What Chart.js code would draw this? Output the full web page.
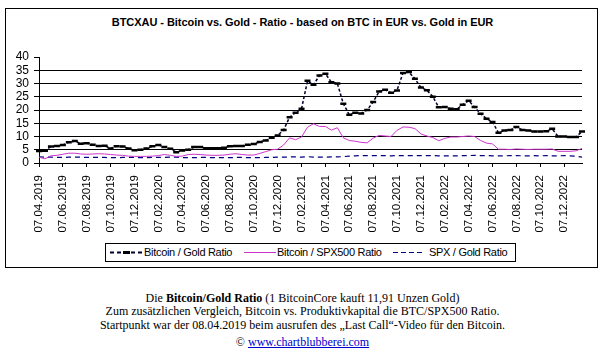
<!DOCTYPE html>
<html>
<head>
<meta charset="utf-8">
<script src="https://cdn.jsdelivr.net/npm/chart.js@4.4.1/dist/chart.umd.min.js"></script>
<style>
  html, body { margin:0; padding:0; background:#fff; }
  body { width:605px; height:356px; position:relative; overflow:hidden; font-family:"Liberation Sans", Arial, sans-serif; }
  #frame { position:absolute; left:5px; top:8px; width:593px; height:260px; border:1px solid #000; box-sizing:border-box; }
  #title { position:absolute; left:0; top:16px; width:605px; text-align:center; font-weight:bold; font-size:11px; letter-spacing:-0.05px; color:#000; white-space:nowrap; }
  #chartWrap { position:absolute; left:0; top:0; width:605px; height:240px; }
  #legend { position:absolute; left:105px; top:243px; width:411px; height:19px; border:1px solid #000; box-sizing:border-box; font-size:11px; letter-spacing:-0.3px; color:#000; }
  #legend .it { position:absolute; top:0; height:17px; line-height:17px; white-space:nowrap; }
  #legend svg { position:absolute; top:5px; }
  #foot { position:absolute; left:0; top:291px; width:605px; text-align:center; font-family:"Liberation Serif", "Times New Roman", serif; font-size:12px; color:#000; }
  #foot div { position:absolute; left:0; width:605px; white-space:nowrap; }
  #foot a { color:#0000cc; text-decoration:underline; }
</style>
</head>
<body>
<div id="frame"></div>
<div id="title">BTCXAU - Bitcoin vs. Gold - Ratio - based on BTC in EUR vs. Gold in EUR</div>
<div id="chartWrap"><canvas id="c" width="605" height="240"></canvas></div>
<div id="legend">
  <svg style="left:4px" width="32" height="7"><line x1="0" y1="3.5" x2="32" y2="3.5" stroke="#000033" stroke-width="2" stroke-dasharray="4,3"/><rect x="13" y="2" width="7" height="3" fill="#000"/></svg>
  <span class="it" style="left:38px">Bitcoin / Gold Ratio</span>
  <svg style="left:138px" width="32" height="7"><line x1="0" y1="3.5" x2="32" y2="3.5" stroke="#cc33cc" stroke-width="1"/></svg>
  <span class="it" style="left:171px">Bitcoin / SPX500 Ratio</span>
  <svg style="left:287px" width="32" height="7"><line x1="0" y1="3.5" x2="32" y2="3.5" stroke="#000080" stroke-width="1.2" stroke-dasharray="5,3"/></svg>
  <span class="it" style="left:323px">SPX / Gold Ratio</span>
</div>
<div id="foot">
  <div style="top:0px">Die <b>Bitcoin/Gold Ratio</b> (1 BitcoinCore kauft 11,91 Unzen Gold)</div>
  <div style="top:13px">Zum zusätzlichen Vergleich, Bitcoin vs. Produktivkapital die BTC/SPX500 Ratio.</div>
  <div style="top:27px">Startpunkt war der 08.04.2019 beim ausrufen des „Last Call“-Video für den Bitcoin.</div>
  <div style="top:44px">© <a href="#">www.chartblubberei.com</a></div>
</div>
<script>
const categories = [
 "07.04.2019","22.04.2019","07.05.2019","22.05.2019","07.06.2019","22.06.2019","07.07.2019","22.07.2019","07.08.2019","22.08.2019","07.09.2019","22.09.2019","07.10.2019","22.10.2019","07.11.2019","22.11.2019","07.12.2019","22.12.2019",
 "07.01.2020","22.01.2020","07.02.2020","22.02.2020","07.03.2020","22.03.2020","07.04.2020","22.04.2020","07.05.2020","22.05.2020","07.06.2020","22.06.2020","07.07.2020","22.07.2020","07.08.2020","22.08.2020","07.09.2020","22.09.2020","07.10.2020","22.10.2020","07.11.2020","22.11.2020","07.12.2020","22.12.2020",
 "07.01.2021","22.01.2021","07.02.2021","22.02.2021","07.03.2021","22.03.2021","07.04.2021","22.04.2021","07.05.2021","22.05.2021","07.06.2021","22.06.2021","07.07.2021","22.07.2021","07.08.2021","22.08.2021","07.09.2021","22.09.2021","07.10.2021","22.10.2021","07.11.2021","22.11.2021","07.12.2021","22.12.2021",
 "07.01.2022","22.01.2022","07.02.2022","22.02.2022","07.03.2022","22.03.2022","07.04.2022","22.04.2022","07.05.2022","22.05.2022","07.06.2022","22.06.2022","07.07.2022","22.07.2022","07.08.2022","22.08.2022","07.09.2022","22.09.2022","07.10.2022","22.10.2022","07.11.2022","22.11.2022","07.12.2022","22.12.2022",
 "07.01.2023","22.01.2023"
];
const tickLabels = [
 "07.04.2019","07.06.2019","07.08.2019","07.10.2019","07.12.2019",
 "07.02.2020","07.04.2020","07.06.2020","07.08.2020","07.10.2020","07.12.2020",
 "07.02.2021","07.04.2021","07.06.2021","07.08.2021","07.10.2021","07.12.2021",
 "07.02.2022","07.04.2022","07.06.2022","07.08.2022","07.10.2022","07.12.2022"
];
const yTicks = [0,5,10,15,20,25,30,35,40];
const btcGold = [
 4.5,4.6,6.2,6.4,6.8,7.8,8.3,7.3,7.5,6.9,
 6.4,6.5,5.5,6.3,6.2,5.5,4.8,5.0,5.5,6.3,
 6.8,6.0,5.4,4.1,4.7,5.0,6.0,6.0,5.6,5.6,
 5.6,5.8,6.3,6.4,6.4,6.9,7.2,7.9,8.5,9.5,
 10.4,12.5,17.3,19.0,20.5,31.0,29.5,33.0,33.7,30.5,
 30.0,22.4,18.2,19.0,18.7,20.0,23.0,27.0,27.6,26.5,
 27.4,34.0,34.3,31.8,28.5,27.5,25.0,21.0,21.1,20.5,
 20.3,22.0,23.5,21.1,18.6,16.7,15.5,11.4,12.3,12.5,
 13.6,12.5,12.3,11.9,11.9,12.0,12.9,10.0,10.0,9.8,
 9.8,11.9
];
const btcSpx = [
 2.2,1.6,2.7,2.9,3.3,3.7,3.7,3.4,3.3,3.4,
 3.5,3.4,3.2,3.0,2.9,2.6,2.5,2.5,2.5,2.6,
 2.8,3.2,2.9,2.5,2.6,3.2,3.3,3.2,3.0,2.9,
 2.9,3.0,3.3,3.5,3.2,3.0,3.0,3.6,4.3,5.0,
 5.2,6.8,9.5,8.8,9.8,13.5,14.8,13.8,13.8,12.4,
 13.3,9.5,8.5,8.2,7.8,7.6,9.4,10.4,10.2,10.0,
 12.3,13.6,13.5,13.0,11.0,10.2,9.6,8.4,9.3,9.8,
 9.8,10.0,10.2,10.0,8.5,7.5,7.2,5.2,5.2,5.1,
 5.3,5.2,5.1,5.2,5.2,5.2,5.3,4.4,4.4,4.4,
 4.6,5.5
];
const spxGold = [
 2.3,2.2,2.2,2.1,2.1,2.2,2.2,2.2,2.1,2.1,
 2.1,2.1,2.0,2.0,2.1,2.1,2.1,2.0,2.0,2.1,
 2.1,2.1,2.2,2.2,2.0,2.0,2.0,2.1,2.1,2.0,
 2.0,2.0,2.0,2.1,2.1,2.0,2.0,2.0,2.1,2.1,
 2.2,2.2,2.3,2.3,2.2,2.4,2.2,2.2,2.2,2.3,
 2.3,2.4,2.6,2.7,2.8,2.8,2.8,2.8,2.8,2.7,
 2.8,2.8,2.8,2.8,2.8,2.8,2.8,2.7,2.7,2.7,
 2.7,2.8,2.8,2.9,2.8,2.8,2.7,2.7,2.7,2.8,
 2.8,2.7,2.7,2.8,2.7,2.8,2.7,2.7,2.8,2.7,
 2.6,2.2
];

const FONT = "'Liberation Sans', Arial, sans-serif";
new Chart(document.getElementById('c'), {
  type: 'line',
  data: {
    labels: categories,
    datasets: [
      { label: 'Bitcoin / Gold Ratio', data: btcGold, borderColor: '#000033', borderWidth: 1.5, borderDash: [3,2],
        pointStyle: 'line', pointRadius: 3, pointBorderWidth: 2.5, pointBorderColor: '#000', pointBackgroundColor: '#000',
        fill: false, tension: 0 },
      { label: 'Bitcoin / SPX500 Ratio', data: btcSpx, borderColor: '#cc33cc', borderWidth: 1, pointRadius: 0, fill: false, tension: 0 },
      { label: 'SPX / Gold Ratio', data: spxGold, borderColor: '#000080', borderWidth: 1.2, borderDash: [5,4], pointRadius: 0, fill: false, tension: 0 }
    ]
  },
  options: {
    responsive: false, animation: false, devicePixelRatio: 1,
    layout: { padding: { left: 0, top: 57, right: 23, bottom: 0 } },
    plugins: { legend: { display: false }, tooltip: { enabled: false }, title: { display: false } },
    elements: { point: { hoverRadius: 0 } },
    scales: {
      x: {
        type: 'category', offset: false,
        grid: { display: true, drawOnChartArea: false, drawTicks: true, tickLength: 4, color: '#000', lineWidth: 1 },
        border: { display: true, color: '#000', width: 1 },
        afterBuildTicks: (s) => { s.ticks = s.ticks.filter(t => tickLabels.includes(categories[t.value])); },
        ticks: { autoSkip: false, minRotation: 90, maxRotation: 90, padding: 8, color: '#000', font: { family: FONT, size: 11.5 } },
        afterFit: (s) => { s.height = 77; }
      },
      y: {
        min: 0, max: 40,
        afterBuildTicks: (s) => { s.ticks = yTicks.map(v => ({ value: v })); },
        ticks: { autoSkip: false, padding: 5, color: '#000', font: { family: FONT, size: 12 } },
        grid: { color: (c) => (c.tick && c.tick.value === 40) ? 'rgba(0,0,0,0)' : '#000', tickColor: '#000', tickLength: 5, lineWidth: 1 },
        border: { display: true, color: '#000', width: 1 },
        afterFit: (s) => { s.width = 39; }
      }
    }
  }
});
</script>
</body>
</html>
